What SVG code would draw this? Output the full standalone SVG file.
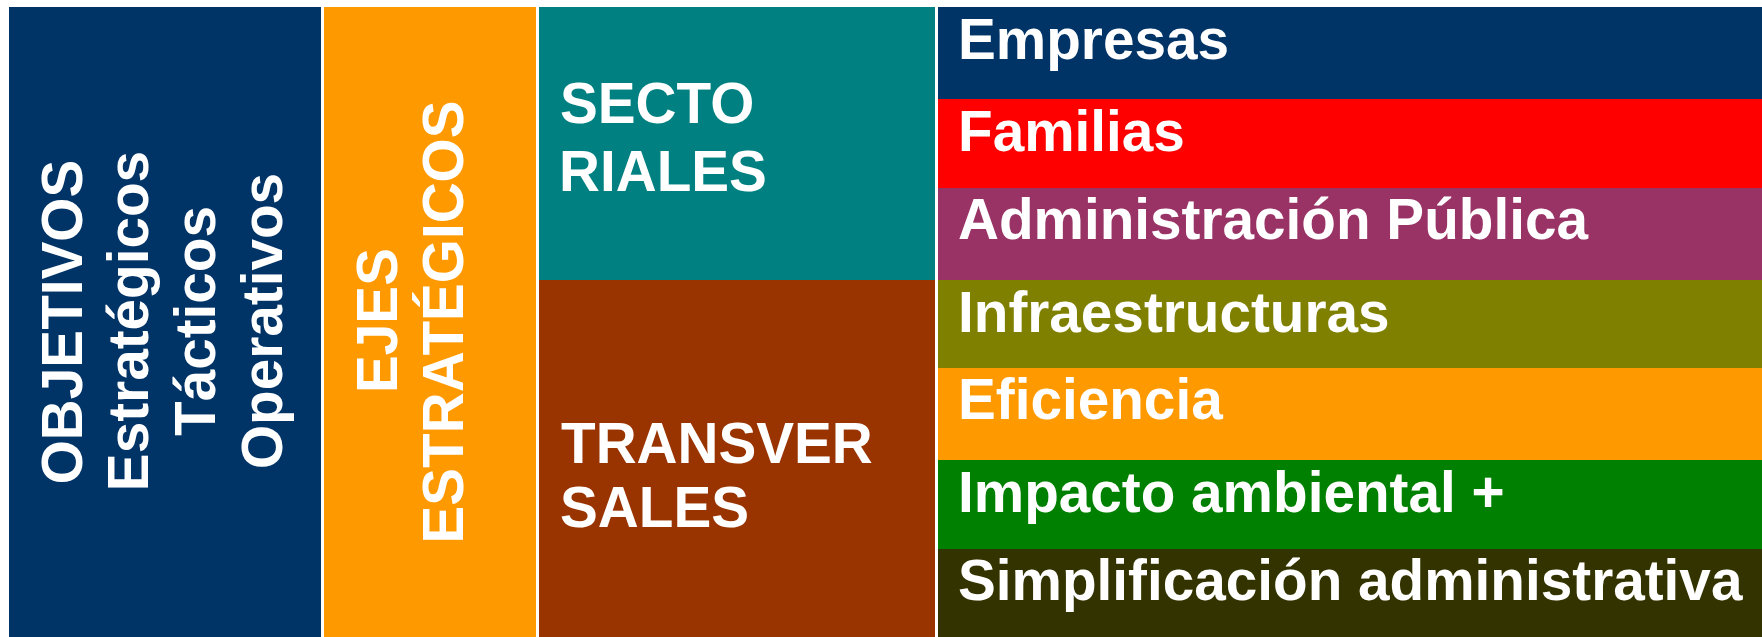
<svg xmlns="http://www.w3.org/2000/svg" width="1762" height="637" viewBox="0 0 1762 637">
<style>
text{font-family:"Liberation Sans",Arial,sans-serif;font-weight:bold;font-size:56.7px;fill:#fff}
.v{text-anchor:middle}
</style>
<rect width="1762" height="637" fill="#fff"/>
<g id="objetivos">
<rect x="9" y="7" width="312" height="630" fill="#003366"/>
<text class="v" transform="translate(81.5,322) rotate(-90)">OBJETIVOS</text>
<text class="v" transform="translate(148,321) rotate(-90)">Estratégicos</text>
<text class="v" transform="translate(215,321) rotate(-90)">Tácticos</text>
<text class="v" transform="translate(282,321) rotate(-90)">Operativos</text>
</g>
<g id="ejes">
<rect x="324" y="7" width="212" height="630" fill="#FF9900"/>
<text class="v" transform="translate(397,320.5) rotate(-90)">EJES</text>
<text class="v" transform="translate(463,322) rotate(-90)">ESTRATÉGICOS</text>
</g>
<g id="sectoriales">
<rect x="539" y="7" width="396" height="273" fill="#008080"/>
<text x="560" y="123">SECTO</text>
<text x="559" y="190.5">RIALES</text>
</g>
<g id="transversales">
<rect x="539" y="280" width="396" height="357" fill="#993300"/>
<text x="561" y="462.5">TRANSVER</text>
<text x="560" y="526.5">SALES</text>
</g>
<g id="empresas"><rect x="938" y="7" width="824" height="92" fill="#003366"/><text x="958" y="59">Empresas</text></g>
<g id="familias"><rect x="938" y="99" width="824" height="89" fill="#FF0000"/><text x="958" y="151">Familias</text></g>
<g id="administracion"><rect x="938" y="188" width="824" height="92" fill="#993366"/><text x="958" y="239">Administración Pública</text></g>
<g id="infraestructuras"><rect x="938" y="280" width="824" height="88" fill="#808000"/><text x="958" y="332">Infraestructuras</text></g>
<g id="eficiencia"><rect x="938" y="368" width="824" height="92" fill="#FF9900"/><text x="958" y="419">Eficiencia</text></g>
<g id="impacto"><rect x="938" y="460" width="824" height="89" fill="#008000"/><text x="958" y="512">Impacto ambiental +</text></g>
<g id="simplificacion"><rect x="938" y="549" width="824" height="88" fill="#333300"/><text x="958" y="600">Simplificación administrativa</text></g>
<g id="connectors"></g>
</svg>
